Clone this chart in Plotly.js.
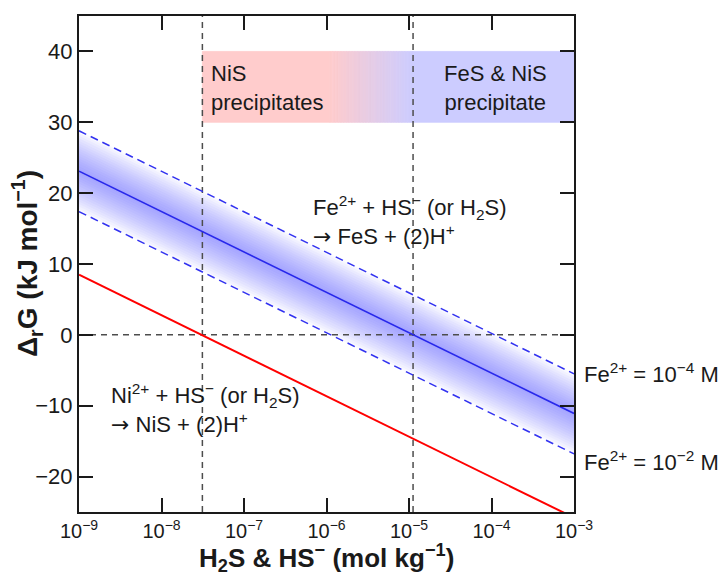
<!DOCTYPE html>
<html>
<head>
<meta charset="utf-8">
<script src="https://cdn.plot.ly/plotly-3.0.1.min.js"></script>
<style>html,body{margin:0;padding:0;background:#fff;}#chart{width:720px;height:576px;}</style>
</head>
<body>
<div id="chart"></div>
<script>
// ---- data ----
const xEnds = [1e-9, 1e-3];                 // H2S & HS- (mol/kg), axis ends
const feCenter = [23.1, -11.1];             // Fe2+ + HS- -> FeS (central estimate)
const feHigh = [28.8, -5.5];                // Fe2+ = 1e-4 M
const feLow = [17.4, -16.8];                // Fe2+ = 1e-2 M
const niLine = [8.5, -25.8];                // Ni2+ + HS- -> NiS
const niSat = 3.13e-8;                      // NiS saturation (dG = 0)
const feSat = 1.12e-5;                      // FeS saturation (dG = 0)
const yRange = [-25, 45];
const boxY = [30, 40];                      // precipitation band
const pinkEnd = 1.1e-6;                     // pink region solid until
const xTicks = [1e-9, 1e-8, 1e-7, 1e-6, 1e-5, 1e-4, 1e-3];
const yTicks = [-20, -10, 0, 10, 20, 30, 40];

const FONT = 'Liberation Sans, Arial, sans-serif';
const TXT = '#1a1a1a';
const ARROW = '<span style="font-family:DejaVu Sans">→</span>';
const traces = [];

function rect(x0, x1, y0, y1, color) {
  traces.push({x: [x0, x1, x1, x0, x0], y: [y0, y0, y1, y1, y0], type: 'scatter', mode: 'lines',
    fill: 'toself', fillcolor: color, line: {width: 0.8, color: color}, hoverinfo: 'skip', showlegend: false});
}

// precipitation boxes
rect(niSat, pinkEnd, boxY[0], boxY[1], 'rgb(255,204,204)');
const nStrip = 30;
const l0 = Math.log10(pinkEnd), l1 = Math.log10(feSat);
for (let i = 0; i < nStrip; i++) {
  const a = Math.pow(10, l0 + (l1 - l0) * i / nStrip);
  const b = Math.pow(10, l0 + (l1 - l0) * (i + 1) / nStrip);
  const t = (i + 0.5) / nStrip;
  const r = Math.round(255 - 51 * t), bl = Math.round(204 + 51 * t);
  rect(a, b, boxY[0], boxY[1], `rgb(${r},204,${bl})`);
}
rect(feSat, xEnds[1], boxY[0], boxY[1], 'rgb(204,204,255)');

// shaded gradient band around the FeS line
const nBand = 16;
for (let k = nBand; k >= 1; k--) {
  const f = k / nBand;
  const up = feCenter.map((c, i) => c + f * (feHigh[i] - c));
  const lo = feCenter.map((c, i) => c - f * (c - feLow[i]));
  traces.push({x: [xEnds[0], xEnds[1], xEnds[1], xEnds[0], xEnds[0]],
    y: [up[0], up[1], lo[1], lo[0], up[0]], type: 'scatter', mode: 'lines', fill: 'toself',
    fillcolor: 'rgba(70,70,255,0.04)', line: {width: 0}, hoverinfo: 'skip', showlegend: false});
}

// reference dashed lines
const gray = {color: '#4d4d4d', width: 1.5, dash: '6px,5px'};
traces.push({x: xEnds, y: [0, 0], type: 'scatter', mode: 'lines', line: gray, showlegend: false});
traces.push({x: [niSat, niSat], y: yRange, type: 'scatter', mode: 'lines', line: gray, showlegend: false});
traces.push({x: [feSat, feSat], y: yRange, type: 'scatter', mode: 'lines', line: gray, showlegend: false});

// reaction lines
const bdash = {color: 'rgb(50,50,240)', width: 1.5, dash: '8px,5px'};
traces.push({x: xEnds, y: feHigh, type: 'scatter', mode: 'lines', line: bdash, name: 'Fe2+ = 1e-4 M', showlegend: false});
traces.push({x: xEnds, y: feLow, type: 'scatter', mode: 'lines', line: bdash, name: 'Fe2+ = 1e-2 M', showlegend: false});
traces.push({x: xEnds, y: feCenter, type: 'scatter', mode: 'lines', line: {color: 'rgb(40,40,235)', width: 1.6}, name: 'FeS', showlegend: false});
traces.push({x: xEnds, y: niLine, type: 'scatter', mode: 'lines', line: {color: 'rgb(255,0,0)', width: 2}, name: 'NiS', showlegend: false});

function ann(text, x, y, xanchor) {
  return {text: text, xref: 'paper', yref: 'y', x: x, y: y, xanchor: xanchor || 'left', yanchor: 'middle',
    showarrow: false, align: xanchor === 'center' ? 'center' : 'left', font: {family: FONT, size: 22, color: TXT}};
}
const P = px => (px - 79) / 495;
const Q = py => (512 - py) / 496;

const annotations = [
  ann('NiS<br>precipitates', P(209), 34.8),
  ann('FeS &amp; NiS<br>precipitate', P(495), 34.8, 'center'),
  ann('Fe<sup>2+</sup> + HS<sup>−</sup> (or H<sub>2</sub>S)<br>' + ARROW + ' FeS + (2)H<sup>+</sup>', P(311), 16.1),
  ann('Ni<sup>2+</sup> + HS<sup>−</sup> (or H<sub>2</sub>S)<br>' + ARROW + ' NiS + (2)H<sup>+</sup>', P(109), -10.4),
  ann('Fe<sup>2+</sup> = 10<sup>−4</sup> M', P(582), -5.4),
  ann('Fe<sup>2+</sup> = 10<sup>−2</sup> M', P(582), -17.8),
  {text: '<b>Δ<sub>r</sub>G (kJ mol<sup>−1</sup>)</b>', xref: 'paper', yref: 'paper', x: P(27), y: 0.5,
   xanchor: 'center', yanchor: 'middle', textangle: -90, showarrow: false,
   font: {family: FONT, size: 28, color: TXT}},
  {text: '<b>H<sub>2</sub>S &amp; HS<sup>−</sup> (mol kg<sup>−1</sup>)</b>', xref: 'paper', yref: 'paper',
   x: P(326), y: Q(558), xanchor: 'center', yanchor: 'middle', showarrow: false,
   font: {family: FONT, size: 26, color: TXT}}
];

const axisCommon = {
  showgrid: false, zeroline: false, showline: true, linecolor: '#1a1a1a', linewidth: 2,
  ticks: 'inside', ticklen: 14, tickwidth: 2, tickcolor: '#1a1a1a', mirror: 'allticks',
  tickfont: {family: FONT, size: 22, color: TXT}
};

const layout = {
  width: 720, height: 576,
  margin: {l: 79, r: 146, t: 16, b: 64},
  paper_bgcolor: '#ffffff', plot_bgcolor: '#ffffff',
  showlegend: false,
  xaxis: Object.assign({}, axisCommon, {
    type: 'log', range: [Math.log10(xEnds[0]), Math.log10(xEnds[1])],
    tickvals: xTicks, tickfont: {family: FONT, size: 20, color: TXT},
    ticktext: xTicks.map(v => '10<sup>' + String(Math.round(Math.log10(v))).replace('-', '−') + '</sup>')
  }),
  yaxis: Object.assign({}, axisCommon, {
    range: yRange, tickvals: yTicks
  }),
  annotations: annotations
};

Plotly.newPlot('chart', traces, layout, {staticPlot: true, displayModeBar: false});
</script>
</body>
</html>
